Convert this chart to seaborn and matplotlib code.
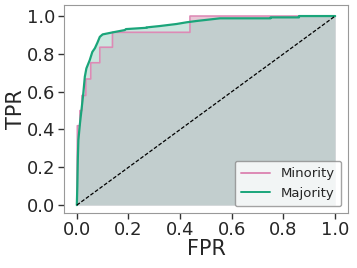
import numpy as np
import pandas as pd
import matplotlib
matplotlib.use("Agg")
import matplotlib.pyplot as plt
import seaborn as sns

# Minority ROC curve
minority_fpr = [0.0, 0.002, 0.002, 0.012, 0.012, 0.02, 0.02, 0.035, 0.035, 0.054, 0.054,
                0.089, 0.089, 0.138, 0.138, 0.438, 0.438, 1.0]
minority_tpr = [0.0, 0.34, 0.42, 0.42, 0.50, 0.50, 0.58, 0.58, 0.667, 0.667, 0.753,
                0.753, 0.835, 0.835, 0.914, 0.914, 1.0, 1.0]

# Majority ROC curve
majority_fpr = [0.0, 0.002, 0.004, 0.006, 0.012, 0.018, 0.025, 0.031, 0.037, 0.05, 0.06,
                0.07, 0.08, 0.089, 0.10, 0.14, 0.186, 0.19, 0.27, 0.27, 0.32, 0.386,
                0.425, 0.464, 0.554, 0.75, 0.75, 0.86, 0.86, 1.0]
majority_tpr = [0.0, 0.10, 0.25, 0.344, 0.43, 0.503, 0.59, 0.679, 0.723, 0.767, 0.81,
                0.83, 0.86, 0.89, 0.903, 0.914, 0.926, 0.931, 0.938, 0.94, 0.947, 0.958,
                0.967, 0.974, 0.988, 0.988, 0.993, 0.993, 1.0, 1.0]

groups = ["Minority", "Majority"]
line_colors = {"Minority": "#dd8ab5", "Majority": "#1aa57a"}
fill_colors = {"Minority": "#d9a3bc", "Majority": "#aad4ca"}

sns.set_style("ticks")
plt.rcParams["axes.edgecolor"] = "0.6"

df = pd.concat([
    pd.DataFrame({"FPR": minority_fpr, "TPR": minority_tpr, "group": "Minority"}),
    pd.DataFrame({"FPR": majority_fpr, "TPR": majority_tpr, "group": "Majority"}),
], ignore_index=True)

fig = plt.figure(figsize=(3.57, 2.68), dpi=100)
ax = fig.add_axes([0.179, 0.205, 0.796, 0.776])

for g in groups:
    sub = df[df["group"] == g]
    ax.fill_between(sub["FPR"], 0, sub["TPR"], color=fill_colors[g], alpha=0.6, lw=0)

sns.lineplot(data=df, x="FPR", y="TPR", hue="group", hue_order=groups,
             palette=line_colors, sort=False, estimator=None, ax=ax,
             linewidth=1.4)
for line, lw in zip(ax.get_lines()[:2], [1.2, 1.6]):
    line.set_linewidth(lw)

ax.plot([0, 1], [0, 1], linestyle="--", color="black", linewidth=0.9, dashes=(3, 1.5))

ax.set_xlim(-0.05, 1.05)
ax.set_ylim(-0.042, 1.058)
ax.set_xticks([0, 0.2, 0.4, 0.6, 0.8, 1.0])
ax.set_yticks([0, 0.2, 0.4, 0.6, 0.8, 1.0])
ax.tick_params(labelsize=13, length=4, width=1, color="0.2", pad=2)
ax.set_xlabel("FPR", fontsize=15, labelpad=0)
ax.set_ylabel("TPR", fontsize=15, labelpad=1)

leg = ax.legend(loc="lower right", fontsize=9.5, frameon=True, title=None,
                handlelength=2.2, borderpad=0.5)
leg.get_frame().set_edgecolor("0.55")
for h in leg.get_lines():
    h.set_linewidth(1.4)

fig.savefig("out.png", dpi=100)
